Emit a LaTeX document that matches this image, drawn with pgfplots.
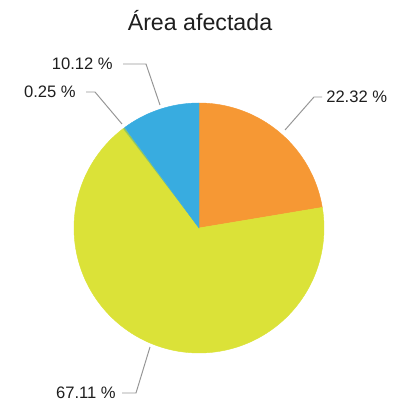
\documentclass[border=0pt]{standalone}
\usepackage{pgfplots}
\pgfplotsset{compat=1.18}
\usepackage{fontspec}
\setmainfont{Liberation Sans}
\definecolor{cOrange}{RGB}{246,152,52}
\definecolor{cYellow}{RGB}{219,226,56}
\definecolor{cSmall}{RGB}{150,200,90}
\definecolor{cBlue}{RGB}{56,172,224}
\definecolor{cLine}{RGB}{150,150,150}
\definecolor{cText}{RGB}{30,30,30}
% percentages, clockwise from the top
\def\vA{22.32}
\def\vB{67.11}
\def\vC{0.25}
\def\vD{10.12}
\begin{document}
\begin{tikzpicture}
\pgfmathsetmacro{\tot}{\vA+\vB+\vC+\vD}
\pgfmathsetmacro{\aA}{90}
\pgfmathsetmacro{\aB}{90-360*(\vA/\tot)}
\pgfmathsetmacro{\aC}{\aB-360*(\vB/\tot)}
\pgfmathsetmacro{\aD}{\aC-360*(\vC/\tot)}
\pgfmathsetmacro{\aE}{-270}
\begin{axis}[
  width=10.25cm, height=10.1cm, scale only axis,
  xmin=0, xmax=410, ymin=0, ymax=404,
  hide axis, clip=false,
]
\path (axis cs:0,0) rectangle (axis cs:410,404);
\addplot[fill=cOrange, draw=cOrange, line width=0.3pt, domain=\aB:\aA, samples=80]
  ({199+125*cos(x)},{176+125*sin(x)}) -- (axis cs:199,176) -- cycle;
\addplot[fill=cYellow, draw=cYellow, line width=0.3pt, domain=\aC:\aB, samples=200]
  ({199+125*cos(x)},{176+125*sin(x)}) -- (axis cs:199,176) -- cycle;
\addplot[fill=cSmall, draw=none, domain=\aD:\aC, samples=5]
  ({199+125*cos(x)},{176+125*sin(x)}) -- (axis cs:199,176) -- cycle;
\addplot[fill=cBlue, draw=cBlue, line width=0.3pt, domain=\aE:\aD, samples=40]
  ({199+125*cos(x)},{176+125*sin(x)}) -- (axis cs:199,176) -- cycle;
% title
\node[font=\fontsize{16.5}{18}\selectfont, text=cText] at (axis cs:200,383) {Área afectada};
% leader lines
\draw[cLine, line width=0.7pt] (axis cs:285,274) -- (axis cs:314,307) -- (axis cs:322,307);
\draw[cLine, line width=0.7pt] (axis cs:160,299) -- (axis cs:146,340) -- (axis cs:123,340);
\draw[cLine, line width=0.7pt] (axis cs:122,280) -- (axis cs:95,312) -- (axis cs:86,312);
\draw[cLine, line width=0.7pt] (axis cs:150,57) -- (axis cs:136,11) -- (axis cs:122,11);
% labels
\tikzset{lbl/.style={font=\fontsize{11.8}{14}\selectfont, text=cText, inner sep=0pt}}
\node[lbl, anchor=west] at (axis cs:326,307) {\vA\ \%};
\node[lbl, anchor=east] at (axis cs:113,340) {\vD\ \%};
\node[lbl, anchor=east] at (axis cs:76,312) {\vC\ \%};
\node[lbl, anchor=east] at (axis cs:116,11) {\vB\ \%};
\end{axis}
\end{tikzpicture}
\end{document}
